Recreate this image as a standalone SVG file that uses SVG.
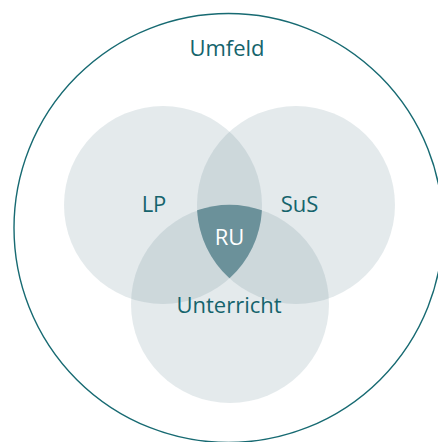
<svg xmlns="http://www.w3.org/2000/svg" width="438" height="442" viewBox="0 0 438 442">
  <style>
    .set { fill: #4b7380; fill-opacity: 0.15; }
    .label { font-family: "Open Sans", "Noto Sans", sans-serif; font-size: 22px; fill: #15646c; text-anchor: middle; }
    .core { fill: #6b919a; }
    .core-label { font-family: "Open Sans", "Noto Sans", sans-serif; font-size: 22px; fill: #ffffff; text-anchor: middle; }
  </style>
  <rect width="438" height="442" fill="#ffffff"/>
  <g id="umfeld">
    <circle cx="228.5" cy="228" r="214.5" fill="none" stroke="#176a72" stroke-width="1.4"/>
    <text class="label" x="227" y="56">Umfeld</text>
  </g>
  <g id="lp">
    <circle class="set" cx="163" cy="205" r="99"/>
    <text class="label" x="154" y="212">LP</text>
  </g>
  <g id="sus">
    <circle class="set" cx="296" cy="205" r="99"/>
    <text class="label" x="299.5" y="212">SuS</text>
  </g>
  <g id="unterricht">
    <circle class="set" cx="230" cy="304" r="99"/>
    <text class="label" x="229" y="313">Unterricht</text>
  </g>
  <g id="ru">
    <path class="core" d="M197.1 210.3 A99 99 0 0 1 261.9 210.3 A99 99 0 0 1 229.5 278.3 A99 99 0 0 1 197.1 210.3 Z"/>
    <text class="core-label" x="229.5" y="245">RU</text>
  </g>
  <g id="connectors"/>
</svg>
